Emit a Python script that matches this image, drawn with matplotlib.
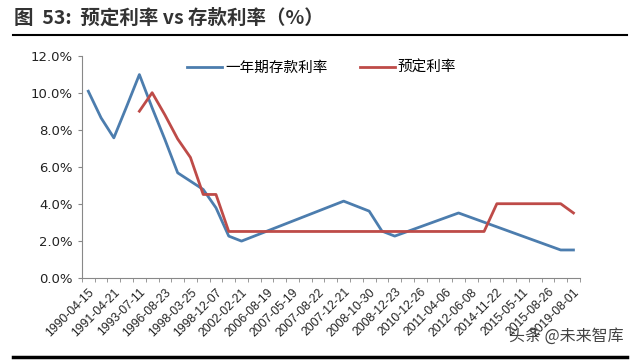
import matplotlib
matplotlib.use("Agg")
import matplotlib.pyplot as plt
import numpy as np
from matplotlib.ticker import FixedLocator, PercentFormatter

plt.rcParams['font.family'] = ['Noto Sans CJK SC', 'DejaVu Sans']

# category dates (rate change dates)
dates = ["1990-04-15", "1990-08-21", "1991-04-21", "1993-05-15", "1993-07-11",
         "1996-05-01", "1996-08-23", "1997-10-23", "1998-03-25", "1998-07-01",
         "1998-12-07", "1999-06-10", "2002-02-21", "2004-10-29", "2006-08-19",
         "2007-03-18", "2007-05-19", "2007-07-21", "2007-08-22", "2007-09-15",
         "2007-12-21", "2008-10-09", "2008-10-30", "2008-11-27", "2008-12-23",
         "2010-10-20", "2010-12-26", "2011-02-09", "2011-04-06", "2011-07-07",
         "2012-06-08", "2012-07-06", "2014-11-22", "2015-03-01", "2015-05-11",
         "2015-06-28", "2015-08-26", "2015-10-24", "2019-08-01"]

# one-year deposit rate (%)
deposit = [10.08, 8.64, 7.56, 9.25, 10.98, 9.18, 7.47, 5.67, 5.22, 4.77,
           3.78, 2.25, 1.98, 2.25, 2.52, 2.79, 3.06, 3.33, 3.60, 3.87,
           4.14, 3.87, 3.60, 2.52, 2.25, 2.50, 2.75, 3.00, 3.25, 3.50,
           3.25, 3.00, 2.75, 2.50, 2.25, 2.00, 1.75, 1.50, 1.50]

# predetermined rate (%), starts at 1993-07-11
predet = [None, None, None, None, 9.0, 10.0, 8.8, 7.5, 6.5, 4.5,
          4.5, 2.5, 2.5, 2.5, 2.5, 2.5, 2.5, 2.5, 2.5, 2.5,
          2.5, 2.5, 2.5, 2.5, 2.5, 2.5, 2.5, 2.5, 2.5, 2.5,
          2.5, 2.5, 4.0, 4.0, 4.0, 4.0, 4.0, 4.0, 3.5]

x = np.arange(len(dates))
pred = np.array([np.nan if v is None else v for v in predet])

fig = plt.figure(figsize=(6.4, 3.64), dpi=100)
ax = fig.add_axes([0.128, 0.237, 0.778, 0.610])

ax.plot(x, deposit, color="#4C7DAE", lw=2.0, label="一年期存款利率")
ax.plot(x, pred, color="#BE4B48", lw=2.0, label="预定利率")

ax.set_xlim(-0.5, len(dates) - 0.5)
ax.set_ylim(0, 12)
ax.set_yticks(np.arange(0, 12.1, 2))
ax.yaxis.set_major_formatter(PercentFormatter(decimals=1))
ax.tick_params(axis='y', labelsize=9.5, length=3, color="#888888", labelcolor="#222222")
for t in ax.get_yticklabels():
    t.set_family(['DejaVu Sans'])

ax.xaxis.set_major_locator(FixedLocator(x[::2]))
ax.set_xticklabels(dates[::2], rotation=45, ha='right', rotation_mode='anchor',
                   fontsize=8.8, family=['Liberation Sans'], color="#222222")
ax.tick_params(axis='x', which='major', length=0, pad=6)
ax.xaxis.set_minor_locator(FixedLocator(np.arange(-0.5, len(dates), 1)))
ax.tick_params(axis='x', which='minor', length=3, color="#888888")

for s in ['top', 'right']:
    ax.spines[s].set_visible(False)
for s in ['left', 'bottom']:
    ax.spines[s].set_color("#888888")

ax.legend(loc='upper left', bbox_to_anchor=(0.185, 1.035), ncol=2, frameon=False,
          fontsize=10.5, handlelength=2.4, columnspacing=2.2, handletextpad=0.2)

fig.text(0.022, 0.95, "图  53:  预定利率 vs 存款利率（%）", fontsize=14,
         fontweight='bold', color="#333333", va='center')
fig.add_artist(plt.Line2D([0.02, 0.98], [0.904, 0.904], color="black", lw=1.5))
fig.add_artist(plt.Line2D([0.02, 0.98], [0.018, 0.018], color="black", lw=2.5))
fig.text(0.975, 0.065, "头条 @未来智库", fontsize=11.5, color="#444444", ha='right')

fig.savefig("out.png", dpi=100)
